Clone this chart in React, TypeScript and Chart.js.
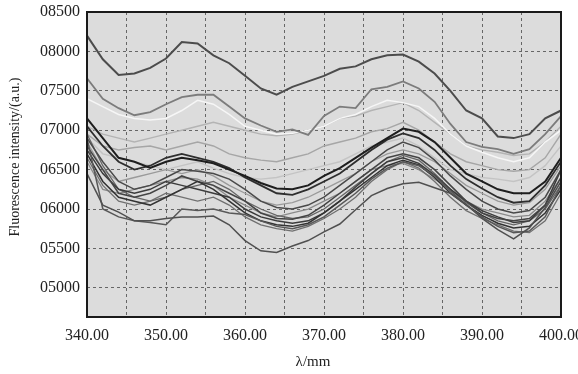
import React, { useEffect, useRef } from "react";
import { Chart, registerables } from "chart.js";

Chart.register(...registerables);

// ---- data ----
const wavelengths = [340, 342, 344, 346, 348, 350, 352, 354, 356, 358, 360, 362, 364, 366, 368, 370, 372, 374, 376, 378, 380, 382, 384, 386, 388, 390, 392, 394, 396, 398, 400];
const xTickValues = [340, 345, 350, 355, 360, 365, 370, 375, 380, 385, 390, 395, 400];
const xTickLabels = ["340.00", "", "350.00", "", "360.00", "", "370.00", "", "380.00", "", "390.00", "", "400.00"];
const yTickValues = [5000, 5500, 6000, 6500, 7000, 7500, 8000, 8500];
const yTickLabels = ["05000", "05500", "06000", "06500", "07000", "07500", "08000", "08500"];

const specA = [8200, 7900, 7700, 7720, 7790, 7910, 8120, 8100, 7950, 7850, 7690, 7530, 7450, 7550, 7620, 7690, 7780, 7810, 7900, 7950, 7960, 7870, 7720, 7500, 7250, 7150, 6920, 6900, 6950, 7150, 7250];
const specB = [7660, 7400, 7280, 7190, 7230, 7330, 7420, 7450, 7450, 7300, 7150, 7060, 6980, 7010, 6940, 7180, 7300, 7280, 7520, 7550, 7620, 7530, 7360, 7080, 6850, 6790, 6760, 6700, 6760, 6950, 7180];
const specC = [7400, 7300, 7200, 7150, 7130, 7150, 7250, 7380, 7330, 7200, 7050, 7000, 6950, 6960, 7000, 7050, 7150, 7200, 7300, 7380, 7350, 7300, 7150, 6950, 6800, 6720, 6650, 6600, 6650, 6850, 7000];
const specD = [7050, 6950, 6900, 6850, 6900, 6950, 7000, 7050, 7100, 7050, 7000, 6950, 6930, 6950, 7000, 7050, 7150, 7180, 7250, 7300, 7350, 7250, 7100, 6950, 6800, 6750, 6720, 6680, 6700, 6850, 7050];
const specE = [6950, 6800, 6750, 6780, 6800, 6750, 6800, 6850, 6800, 6700, 6650, 6620, 6600, 6650, 6700, 6800, 6850, 6900, 6980, 7020, 7100, 7000, 6850, 6700, 6600, 6550, 6500, 6480, 6500, 6650, 6950];
const specF = [6900, 6700, 6650, 6600, 6550, 6500, 6550, 6600, 6520, 6450, 6400, 6380, 6400, 6450, 6500, 6550, 6600, 6700, 6800, 6850, 6900, 6800, 6650, 6500, 6450, 6400, 6380, 6350, 6400, 6550, 6800];
const specK1 = [7150, 6900, 6650, 6600, 6520, 6600, 6650, 6620, 6580, 6500, 6420, 6330, 6260, 6250, 6300, 6420, 6520, 6650, 6780, 6900, 7020, 6980, 6850, 6650, 6450, 6350, 6250, 6200, 6200, 6350, 6650];
const specK2 = [7050, 6800, 6600, 6500, 6550, 6650, 6700, 6650, 6600, 6520, 6400, 6300, 6200, 6180, 6250, 6350, 6450, 6600, 6750, 6880, 6960, 6900, 6750, 6550, 6380, 6260, 6150, 6080, 6100, 6300, 6600];
const specK3 = [6900, 6600, 6350, 6250, 6300, 6400, 6500, 6480, 6450, 6380, 6250, 6100, 6020, 6000, 6050, 6150, 6300, 6450, 6600, 6750, 6850, 6780, 6620, 6420, 6250, 6100, 6000, 5950, 5980, 6150, 6500];
const specK4 = [6800, 6500, 6200, 6150, 6200, 6300, 6420, 6350, 6300, 6200, 6100, 5950, 5880, 5870, 5920, 6050, 6200, 6350, 6500, 6650, 6700, 6650, 6500, 6300, 6100, 5950, 5880, 5850, 5880, 6050, 6400];
const specK5 = [6950, 6550, 6250, 6150, 6100, 6150, 6250, 6300, 6350, 6250, 6100, 6000, 5920, 5880, 5900, 6000, 6150, 6300, 6450, 6600, 6680, 6620, 6450, 6250, 6080, 5950, 5850, 5800, 5850, 6000, 6300];
const specK6 = [6700, 6350, 6150, 6100, 6050, 6150, 6250, 6350, 6250, 6100, 5950, 5850, 5800, 5780, 5820, 5950, 6100, 6250, 6400, 6550, 6620, 6560, 6400, 6200, 6050, 5920, 5820, 5760, 5780, 5950, 6250];
const specK7 = [6650, 6300, 6100, 6050, 6100, 6200, 6150, 6100, 6150, 6050, 5900, 5800, 5750, 5720, 5780, 5880, 6000, 6150, 6350, 6500, 6600, 6520, 6350, 6150, 5980, 5880, 5800, 5720, 5700, 5850, 6200];
const specK8 = [6900, 6000, 5900, 5850, 5830, 5800, 6000, 5980, 6000, 5950, 5930, 5850, 5780, 5750, 5800, 5900, 6050, 6200, 6380, 6520, 6600, 6550, 6420, 6230, 6050, 5900, 5780, 5700, 5720, 5900, 6300];
const specK9 = [6450, 6050, 5960, 5850, 5850, 5880, 5900, 5900, 5910, 5800, 5600, 5470, 5450, 5530, 5600, 5710, 5810, 5990, 6170, 6260, 6320, 6340, 6270, 6200, 6060, 5880, 5740, 5620, 5760, 6020, 6350];
const specK10 = [6600, 6250, 6200, 6250, 6300, 6350, 6400, 6380, 6300, 6150, 6050, 5950, 5900, 5950, 6000, 6100, 6200, 6350, 6500, 6550, 6580, 6500, 6380, 6250, 6100, 6000, 5950, 5900, 5920, 6100, 6400];
const specK11 = [6850, 6500, 6350, 6400, 6450, 6500, 6450, 6500, 6420, 6300, 6200, 6100, 6050, 6080, 6150, 6250, 6350, 6450, 6600, 6700, 6750, 6700, 6600, 6450, 6300, 6200, 6100, 6050, 6080, 6250, 6550];
const specK12 = [6750, 6450, 6250, 6200, 6250, 6350, 6300, 6250, 6200, 6150, 6000, 5900, 5850, 5820, 5850, 5950, 6100, 6280, 6450, 6600, 6650, 6580, 6430, 6250, 6100, 5980, 5900, 5830, 5850, 6050, 6500];

// drawing order: first is on top
const seriesList = [specK1, specK2, specK9, specK8, specK6, specK4, specK3, specK12, specK5, specK7, specK10, specK11, specA, specB, specC, specD, specE, specF];
const seriesColors = ["#1e1e1e", "#2e2e2e", "#505050", "#585858", "#333333", "#444444", "#4a4a4a", "#3c3c3c", "#666666", "#707070", "#8a8a8a", "#9a9a9a", "#4c4c4c", "#7c7c7c", "#f6f6f6", "#b4b4b4", "#a6a6a6", "#c4c4c4"];
const seriesWidths = [2, 1.8, 1.5, 1.5, 1.5, 1.5, 1.5, 1.5, 1.3, 1.3, 1.3, 1.3, 2, 1.8, 1.5, 1.4, 1.4, 1.4];

const FONT = '"Liberation Serif", "Times New Roman", serif';

export default function App() {
  const ref = useRef<HTMLCanvasElement>(null);

  useEffect(() => {
    document.body.style.margin = "0";
    const canvas = ref.current;
    if (!canvas) return;

    const framePlugin = {
      id: "frame",
      beforeDraw(chart: any) {
        const { ctx, chartArea } = chart;
        const { left, top, right, bottom } = chartArea;
        ctx.save();
        ctx.fillStyle = "#dcdcdc";
        ctx.fillRect(left, top, right - left, bottom - top);
        ctx.restore();
      },
      afterDraw(chart: any) {
        const { ctx, chartArea } = chart;
        const { left, top, right, bottom } = chartArea;
        ctx.save();
        ctx.strokeStyle = "#1a1a1a";
        ctx.lineWidth = 2;
        ctx.strokeRect(left, top, right - left, bottom - top);
        ctx.fillStyle = "#222";
        ctx.textAlign = "center";
        ctx.textBaseline = "middle";
        ctx.font = `15px ${FONT}`;
        ctx.fillText("λ/mm", 313, 362);
        ctx.translate(15, 157);
        ctx.rotate(-Math.PI / 2);
        ctx.font = `14px ${FONT}`;
        ctx.fillText("Fluorescence intensity/(a.u.)", 0, 0);
        ctx.restore();
      },
    };

    const datasets = seriesList.map((vals, i) => ({
      label: "s" + i,
      data: wavelengths.map((w, j) => ({ x: w, y: vals[j] })),
      borderColor: seriesColors[i],
      backgroundColor: seriesColors[i],
      borderWidth: seriesWidths[i],
      pointRadius: 0,
      tension: 0,
      fill: false,
    }));

    const chart = new Chart(canvas, {
      type: "line",
      data: { datasets },
      plugins: [framePlugin],
      options: {
        animation: false,
        responsive: false,
        layout: { padding: { top: 12, right: 17, left: 0, bottom: 0 } },
        plugins: { legend: { display: false }, tooltip: { enabled: false }, title: { display: false } },
        scales: {
          x: {
            type: "linear",
            min: 340,
            max: 400,
            afterBuildTicks: (scale: any) => {
              scale.ticks = xTickValues.map((v) => ({ value: v }));
            },
            afterFit: (scale: any) => {
              scale.height = 57;
              scale.paddingLeft = 0;
              scale.paddingRight = 0;
            },
            ticks: {
              autoSkip: false,
              maxRotation: 0,
              padding: 9,
              color: "#222",
              font: { family: FONT, size: 16 },
              callback: (_v: any, i: number) => xTickLabels[i],
            },
            grid: { color: "#666666", lineWidth: 1, drawTicks: false },
            border: { display: false, dash: [3, 3] },
          },
          y: {
            type: "linear",
            min: 4630,
            max: 8500,
            afterBuildTicks: (scale: any) => {
              scale.ticks = yTickValues.map((v) => ({ value: v }));
            },
            afterFit: (scale: any) => {
              scale.width = 87;
              scale.paddingTop = 0;
              scale.paddingBottom = 0;
            },
            ticks: {
              autoSkip: false,
              padding: 7,
              color: "#222",
              font: { family: FONT, size: 16 },
              callback: (_v: any, i: number) => yTickLabels[i],
            },
            grid: { color: "#666666", lineWidth: 1, drawTicks: false },
            border: { display: false, dash: [3, 3] },
          },
        },
      },
    });

    return () => chart.destroy();
  }, []);

  return (
    <div style={{ width: 578, height: 374 }}>
      <canvas ref={ref} width={578} height={374} />
    </div>
  );
}
